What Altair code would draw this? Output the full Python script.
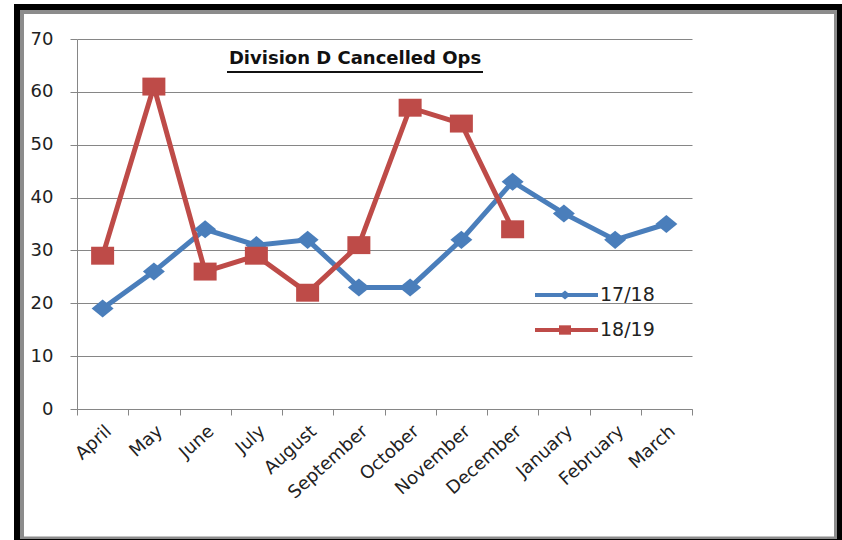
import altair as alt
import pandas as pd

# Monthly cancelled operations, financial year April-March
months = ["April", "May", "June", "July", "August", "September",
          "October", "November", "December", "January", "February", "March"]
ops_1718 = [19, 26, 34, 31, 32, 23, 23, 32, 43, 37, 32, 35]
ops_1819 = [29, 61, 26, 29, 22, 31, 57, 54, 34]
series_names = ["17/18", "18/19"]
series_colors = ["#4A7EBB", "#BE4B48"]
y_ticks = [0, 10, 20, 30, 40, 50, 60, 70]
chart_title = "Division D Cancelled Ops"

rows = []
for m, v in zip(months, ops_1718):
    rows.append({"month": m, "ops": v, "series": series_names[0]})
for m, v in zip(months, ops_1819):
    rows.append({"month": m, "ops": v, "series": series_names[1]})
df = pd.DataFrame(rows)

W, H = 615, 370
LEFT, TOP = 77, 39
FONT = "DejaVu Sans"
AXIS_GREY = "#868686"

# slightly wide marker outlines (unit box -1..1)
DIAMOND = "M0,-0.82 L1,0 L0,0.82 L-1,0 Z"
SQUARE = "M-1,-0.78 L1,-0.78 L1,0.78 L-1,0.78 Z"

x_enc = alt.X(
    "month:N", sort=months,
    scale=alt.Scale(type="band", paddingInner=0, paddingOuter=0),
    axis=alt.Axis(title=None, labelAngle=-42, tickBand="extent", tickSize=6,
                  labelPadding=7, labelFont=FONT, labelFontSize=18,
                  labelColor="#222222", domainColor=AXIS_GREY,
                  tickColor=AXIS_GREY, grid=False),
)
y_enc = alt.Y(
    "ops:Q", scale=alt.Scale(domain=[0, 70], nice=False),
    axis=alt.Axis(title=None, values=y_ticks, grid=True, gridColor=AXIS_GREY,
                  gridWidth=1, domainColor=AXIS_GREY, tickColor=AXIS_GREY,
                  tickSize=7, labelPadding=17, labelFont=FONT, labelFontSize=18,
                  labelColor="#222222"),
)
color_enc = alt.Color("series:N",
                      scale=alt.Scale(domain=series_names, range=series_colors),
                      legend=None)

base = alt.Chart(df)
lines = base.mark_line(strokeWidth=5).encode(x=x_enc, y=y_enc, color=color_enc)

pts_a = base.transform_filter(alt.datum.series == series_names[0]).mark_point(
    shape=DIAMOND, size=484, filled=True, opacity=1, color=series_colors[0]
).encode(x=x_enc, y=y_enc)
pts_b = base.transform_filter(alt.datum.series == series_names[1]).mark_point(
    shape=SQUARE, size=529, filled=True, opacity=1, color=series_colors[1]
).encode(x=x_enc, y=y_enc)

one = pd.DataFrame({"k": [0]})


def box(x1, x2, y1, y2, fill):
    return alt.Chart(one).mark_rect(color=fill).encode(
        x=alt.value(x1), x2=alt.value(x2), y=alt.value(y1), y2=alt.value(y2))


# outer frame: black border with a grey inner edge
frame = [
    box(-63, 765, -35, -29, "#000000"),
    box(-63, -57, -35, 501, "#000000"),
    box(760, 765, -35, 501, "#000000"),
    box(-63, 765, 500, 501, "#000000"),
    box(-57, 760, -29, -25, "#8c8c8c"),
    box(-57, -53, -29, 500, "#8c8c8c"),
    box(757, 760, -29, 500, "#8c8c8c"),
    box(-57, 760, 497.5, 500, "#8c8c8c"),
]

title = alt.Chart(one).mark_text(
    text=chart_title, font=FONT, fontSize=18, fontWeight="bold",
    align="center", baseline="alphabetic", color="#111111"
).encode(x=alt.value(278), y=alt.value(25))
underline = alt.Chart(one).mark_rule(color="#111111", strokeWidth=2).encode(
    x=alt.value(150), x2=alt.value(406), y=alt.value(33))

# in-plot legend
legend_layers = []
for name, col, shp, sz, ly in [
    (series_names[0], series_colors[0], DIAMOND, 121, 256),
    (series_names[1], series_colors[1], SQUARE, 144, 291),
]:
    legend_layers.append(alt.Chart(one).mark_rule(color=col, strokeWidth=4).encode(
        x=alt.value(458), x2=alt.value(521), y=alt.value(ly)))
    legend_layers.append(alt.Chart(one).mark_point(
        shape=shp, size=sz, filled=True, opacity=1, color=col
    ).encode(x=alt.value(488), y=alt.value(ly)))
    legend_layers.append(alt.Chart(one).mark_text(
        text=name, font=FONT, fontSize=19, align="left", baseline="middle",
        color="#222222"
    ).encode(x=alt.value(523), y=alt.value(ly)))

chart = alt.layer(
    lines, pts_a, pts_b, *frame, title, underline, *legend_layers
).properties(
    width=W, height=H,
    padding={"left": LEFT, "top": TOP, "right": 842 - LEFT - W, "bottom": 540 - TOP - H},
    autosize=alt.AutoSizeParams(type="none"),
    background="white",
).configure_view(stroke=None)

chart.save("out.html", embed_options={"renderer": "svg", "actions": False})
